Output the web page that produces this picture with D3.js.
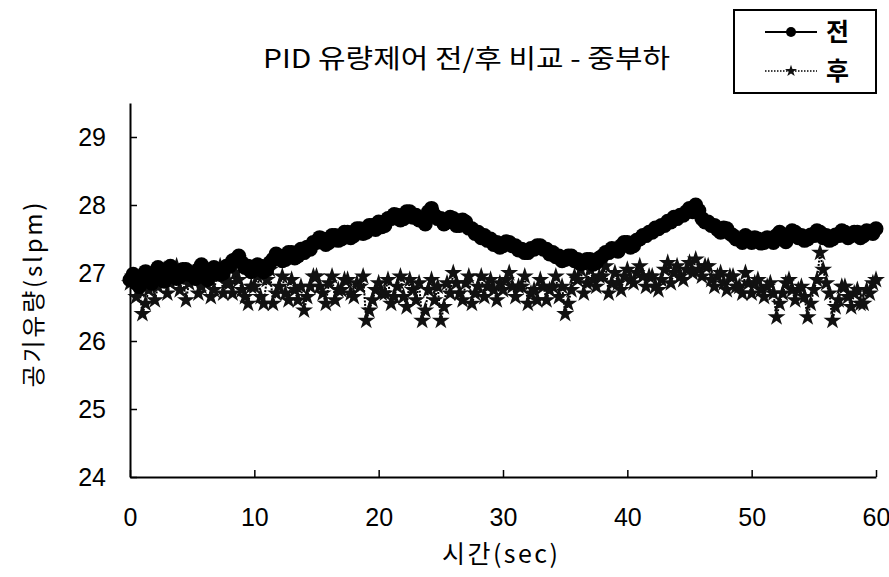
<!DOCTYPE html>
<head>
<meta charset="utf-8">
<title>PID 유량제어 전/후 비교 - 중부하</title>
<script type="text/javascript" src="https://d3js.org/d3.v7.min.js"></script>
<style>
body { margin: 0; background: #fff; }
</style>
</head>
<body>
<div id="display_chart"></div>

<script>
// time axis: one sample every 0.25 sec, 0 .. 60
var times = d3.range(0, 241).map(function(i) { return i * 0.25; });

// 전 (before PID control), slpm - one row = 5 sec
var beforeValues = [
 26.90, 26.98, 26.85, 26.80, 26.95, 27.02, 26.90, 26.85, 27.00, 27.08, 26.95, 26.88, 27.05, 27.10, 27.00, 26.92, 26.95, 27.05, 27.05, 26.98,
 27.00, 26.92, 27.05, 27.12, 26.95, 26.90, 27.00, 27.08, 27.05, 26.98, 27.00, 27.10, 27.10, 27.18, 27.20, 27.25, 27.15, 27.08, 27.10, 27.02,
 27.05, 27.12, 27.10, 27.02, 27.05, 27.15, 27.20, 27.28, 27.25, 27.18, 27.20, 27.30, 27.30, 27.22, 27.25, 27.35, 27.30, 27.38, 27.35, 27.45,
 27.45, 27.52, 27.50, 27.42, 27.45, 27.55, 27.55, 27.48, 27.50, 27.60, 27.60, 27.52, 27.55, 27.65, 27.65, 27.58, 27.60, 27.70, 27.70, 27.64,
 27.75, 27.68, 27.70, 27.80, 27.80, 27.86, 27.85, 27.78, 27.80, 27.90, 27.90, 27.82, 27.85, 27.78, 27.80, 27.72, 27.90, 27.95, 27.85, 27.80,
 27.80, 27.72, 27.75, 27.82, 27.80, 27.70, 27.70, 27.78, 27.75, 27.66, 27.65, 27.58, 27.60, 27.52, 27.55, 27.48, 27.50, 27.42, 27.45, 27.38,
 27.40, 27.46, 27.45, 27.40, 27.40, 27.34, 27.35, 27.30, 27.30, 27.36, 27.35, 27.40, 27.40, 27.35, 27.35, 27.28, 27.30, 27.24, 27.25, 27.18,
 27.20, 27.25, 27.25, 27.18, 27.20, 27.14, 27.15, 27.20, 27.20, 27.13, 27.15, 27.22, 27.25, 27.30, 27.30, 27.36, 27.35, 27.32, 27.40, 27.45,
 27.45, 27.38, 27.40, 27.48, 27.50, 27.55, 27.55, 27.60, 27.60, 27.66, 27.65, 27.70, 27.70, 27.76, 27.75, 27.82, 27.80, 27.85, 27.85, 27.90,
 27.95, 27.90, 28.00, 27.92, 27.80, 27.75, 27.75, 27.70, 27.70, 27.64, 27.60, 27.66, 27.65, 27.58, 27.55, 27.50, 27.50, 27.45, 27.55, 27.50,
 27.45, 27.52, 27.50, 27.44, 27.45, 27.52, 27.50, 27.45, 27.55, 27.60, 27.50, 27.46, 27.55, 27.62, 27.60, 27.52, 27.55, 27.48, 27.50, 27.56,
 27.55, 27.62, 27.60, 27.52, 27.55, 27.48, 27.50, 27.56, 27.55, 27.62, 27.60, 27.52, 27.55, 27.60, 27.60, 27.52, 27.55, 27.62, 27.60, 27.58,
 27.65
];

// 후 (after PID control), slpm - one row = 5 sec
var afterValues = [
 26.85, 26.95, 26.65, 26.75, 26.40, 26.55, 26.75, 26.90, 26.60, 26.80, 26.90, 27.05, 26.70, 26.85, 26.95, 27.10, 26.75, 26.90, 26.60, 26.85,
 26.95, 27.05, 26.70, 26.80, 26.85, 27.00, 26.65, 26.75, 26.95, 27.10, 26.70, 26.85, 26.85, 26.70, 27.00, 26.90, 26.75, 26.65, 26.55, 26.80,
 26.80, 26.95, 26.65, 26.55, 26.90, 27.05, 26.55, 26.70, 26.80, 26.95, 26.70, 26.60, 26.90, 26.75, 26.60, 26.80, 26.45, 26.65, 26.80, 26.95,
 26.95, 26.80, 26.70, 26.55, 26.85, 26.95, 26.60, 26.75, 26.75, 26.90, 26.90, 26.70, 26.65, 26.85, 26.80, 26.95, 26.30, 26.45, 26.60, 26.75,
 26.85, 26.70, 26.70, 26.90, 26.55, 26.65, 26.80, 26.95, 26.65, 26.50, 26.90, 26.75, 26.60, 26.85, 26.30, 26.45, 26.75, 26.90, 26.60, 26.80,
 26.30, 26.50, 26.85, 26.70, 27.00, 26.85, 26.70, 26.60, 26.85, 26.95, 26.55, 26.70, 26.80, 26.95, 26.65, 26.80, 26.90, 26.75, 26.60, 26.85,
 26.75, 26.90, 27.00, 26.80, 26.65, 26.80, 26.80, 26.95, 26.55, 26.70, 26.75, 26.60, 26.90, 26.80, 26.60, 26.75, 26.80, 26.95, 26.65, 26.80,
 26.40, 26.55, 26.75, 26.95, 26.90, 27.05, 26.70, 26.85, 27.05, 26.90, 26.80, 26.95, 26.95, 27.10, 26.70, 26.85, 27.00, 26.85, 26.75, 26.95,
 27.05, 26.90, 26.85, 27.00, 27.10, 26.95, 26.80, 26.95, 26.95, 26.80, 26.75, 26.90, 27.05, 27.15, 26.85, 27.00, 27.10, 26.95, 26.90, 27.05,
 27.15, 27.00, 27.20, 27.05, 26.95, 27.10, 27.10, 26.90, 26.80, 26.95, 27.00, 26.85, 26.75, 26.95, 26.95, 26.80, 26.80, 26.70, 27.00, 26.85,
 26.70, 26.85, 26.90, 26.75, 26.65, 26.80, 26.85, 26.70, 26.35, 26.55, 26.70, 26.85, 26.90, 26.75, 26.60, 26.75, 26.80, 26.65, 26.35, 26.55,
 26.75, 26.90, 27.30, 27.05, 26.85, 26.70, 26.30, 26.50, 26.60, 26.80, 26.80, 26.65, 26.50, 26.70, 26.75, 26.55, 26.55, 26.75, 26.70, 26.85,
 26.90
];

// tick labels
var xTicks = [0, 10, 20, 30, 40, 50, 60];
var yTicks = [24, 25, 26, 27, 28, 29];

var seriesNames = ["전", "후"];
var titleText = "PID 유량제어 전/후 비교 - 중부하";
var xLabel = "시간(sec)";
var yLabel = "공기유량(slpm)";

var numFont = "'Liberation Sans Narrow', 'Liberation Sans', Arial, sans-serif";
var korFont = "'Noto Sans CJK KR', 'Noto Sans', sans-serif";

var svg = d3.select("#display_chart")
  .append("svg")
    .attr("width", 889)
    .attr("height", 577);

// scales
var xScale = d3.scaleLinear()
    .domain([0, 60])
    .range([130, 876]);

var yScale = d3.scaleLinear()
    .domain([24, 29.5])
    .range([477, 103]);

var beforeData = times.map(function(t, i) { return {t: t, v: beforeValues[i]}; });
var afterData = times.map(function(t, i) { return {t: t, v: afterValues[i]}; });

//*******************************
// axes
//*******************************
var xAxis = d3.axisBottom(xScale)
    .tickValues(xTicks)
    .tickFormat(d3.format("d"))
    .tickSizeInner(-7)
    .tickSizeOuter(0)
    .tickPadding(40);

var gx = svg.append("g")
    .attr("transform", "translate(0," + yScale(24) + ")")
    .call(xAxis);

var yAxis = d3.axisLeft(yScale)
    .tickValues(yTicks)
    .tickFormat(d3.format("d"))
    .tickSizeInner(-7)
    .tickSizeOuter(0)
    .tickPadding(24);

var gy = svg.append("g")
    .attr("transform", "translate(" + xScale(0) + ",0)")
    .call(yAxis);

[gx, gy].forEach(function(g) {
  g.select(".domain").attr("stroke", "#000").attr("stroke-width", 2);
  g.selectAll(".tick line").attr("stroke", "#000").attr("stroke-width", 1.5);
  g.selectAll(".tick text")
    .attr("fill", "#000")
    .style("font-family", numFont)
    .style("font-size", "25px");
});
gx.selectAll(".tick text").attr("dy", "0.35em");

//*******************************
// 후 series: dotted line + star markers
//*******************************
var line = d3.line()
    .x(function(d) { return xScale(d.t); })
    .y(function(d) { return yScale(d.v); });

svg.append("path")
    .datum(afterData)
    .attr("fill", "none")
    .attr("stroke", "#000")
    .attr("stroke-width", 2)
    .attr("stroke-dasharray", "2,1.5")
    .attr("d", line);

var star = d3.symbol().type(d3.symbolStar).size(100);

svg.append("g")
  .selectAll("path")
  .data(afterData)
  .join("path")
    .attr("transform", function(d) { return "translate(" + xScale(d.t) + "," + yScale(d.v) + ")"; })
    .attr("d", star)
    .attr("fill", "#111");

//*******************************
// 전 series: solid line + filled circles
//*******************************
svg.append("path")
    .datum(beforeData)
    .attr("fill", "none")
    .attr("stroke", "#000")
    .attr("stroke-width", 2)
    .attr("d", line);

svg.append("g")
  .selectAll("circle")
  .data(beforeData)
  .join("circle")
    .attr("cx", function(d) { return xScale(d.t); })
    .attr("cy", function(d) { return yScale(d.v); })
    .attr("r", 7.5)
    .attr("fill", "#000");

//*******************************
// title and axis labels
//*******************************
svg.append("text")
    .attr("x", 263)
    .attr("y", 68)
    .attr("textLength", 407)
    .attr("lengthAdjust", "spacingAndGlyphs")
    .style("font-family", korFont)
    .style("font-size", "26px")
    .text(titleText);

svg.append("text")
    .attr("x", 500)
    .attr("y", 563)
    .attr("text-anchor", "middle")
    .attr("textLength", 116)
    .attr("lengthAdjust", "spacing")
    .style("font-family", korFont)
    .style("font-size", "25px")
    .text(xLabel);

svg.append("text")
    .attr("transform", "translate(42,295) rotate(-90)")
    .attr("text-anchor", "middle")
    .attr("textLength", 185)
    .attr("lengthAdjust", "spacing")
    .style("font-family", korFont)
    .style("font-size", "24px")
    .text(yLabel);

//*******************************
// legend
//*******************************
var legend = svg.append("g");

legend.append("rect")
    .attr("x", 734)
    .attr("y", 10)
    .attr("width", 142)
    .attr("height", 83)
    .attr("fill", "#fff")
    .attr("stroke", "#000")
    .attr("stroke-width", 2);

// 전
legend.append("line")
    .attr("x1", 765).attr("y1", 32)
    .attr("x2", 817).attr("y2", 32)
    .attr("stroke", "#000")
    .attr("stroke-width", 2);
legend.append("circle")
    .attr("cx", 791).attr("cy", 32)
    .attr("r", 5)
    .attr("fill", "#000");

// 후
legend.append("line")
    .attr("x1", 765).attr("y1", 71)
    .attr("x2", 817).attr("y2", 71)
    .attr("stroke", "#000")
    .attr("stroke-width", 1.5)
    .attr("stroke-dasharray", "1.5,1.5");
legend.append("path")
    .attr("transform", "translate(791,71)")
    .attr("d", d3.symbol().type(d3.symbolStar).size(45))
    .attr("fill", "#111");

legend.selectAll("text.lab")
  .data(seriesNames)
  .join("text")
    .attr("class", "lab")
    .attr("x", 826)
    .attr("y", function(d, i) { return i == 0 ? 32 : 71; })
    .attr("dy", "0.36em")
    .style("font-family", korFont)
    .style("font-size", "25px")
    .style("font-weight", "bold")
    .text(function(d) { return d; });
</script>
</body>
